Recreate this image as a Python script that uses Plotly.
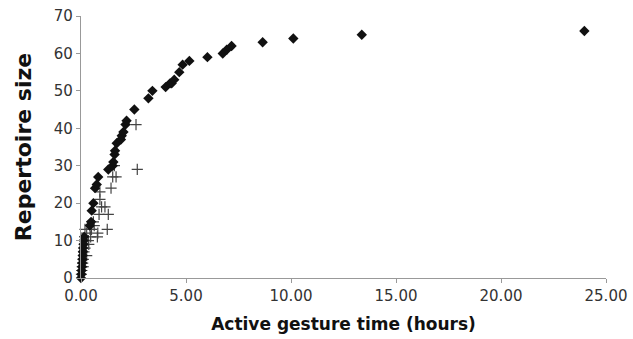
import plotly.graph_objects as go

# Series 1: diamonds
x_diamond = [0.00, 0.02, 0.03, 0.05, 0.06, 0.07, 0.08, 0.09, 0.10, 0.12, 0.13, 0.15,
             0.42, 0.48, 0.51, 0.59, 0.67, 0.75, 0.82, 1.30, 1.51, 1.54, 1.60, 1.62,
             1.70, 1.90, 1.94, 2.02, 2.12, 2.17, 2.54, 3.21, 3.40, 4.03, 4.24, 4.32,
             4.44, 4.68, 4.84, 5.16, 6.02, 6.75, 6.94, 7.17, 8.65, 10.11, 13.37, 23.97]
y_diamond = [0, 1, 2, 3, 4, 5, 6, 7, 8, 9, 10, 11,
             14, 15, 18, 20, 24, 25, 27, 29, 30, 31, 33, 34,
             36, 37, 38, 39, 41, 42, 45, 48, 50, 51, 52, 52,
             53, 55, 57, 58, 59, 60, 61, 62, 63, 64, 65, 66]

# Series 2: crosses
x_cross = [0.02, 0.04, 0.06, 0.08, 0.11, 0.11, 0.14, 0.19, 0.19, 0.27, 0.27, 0.35,
           0.37, 0.43, 0.46, 0.50, 0.59, 0.63, 0.78, 0.80, 0.86, 0.90, 0.90, 0.98,
           1.14, 1.25, 1.30, 1.43, 1.51, 1.59, 1.67, 2.62, 2.68]
y_cross = [1, 2, 3, 4, 3, 5, 7, 8, 13, 6, 12, 10,
           9, 13, 11, 13, 15, 14, 11, 12, 17, 23, 21, 19,
           19, 13, 17, 24, 27, 30, 27, 41, 29]

x_ticks = [0, 5, 10, 15, 20, 25]
x_tick_labels = ["0.00", "5.00", "10.00", "15.00", "20.00", "25.00"]
y_ticks = [0, 10, 20, 30, 40, 50, 60, 70]

fig = go.Figure()
fig.add_trace(go.Scatter(
    x=x_cross, y=y_cross, mode="markers", cliponaxis=False,
    marker=dict(symbol="cross-thin-open", size=8, color="#444444",
                line=dict(width=1.2, color="#444444")),
    showlegend=False))
fig.add_trace(go.Scatter(
    x=x_diamond, y=y_diamond, mode="markers", cliponaxis=False,
    marker=dict(symbol="diamond", size=8, color="#111111"),
    showlegend=False))

tickfont = dict(family="DejaVu Sans", size=15, color="#333333")
fig.update_layout(
    width=633, height=339,
    margin=dict(l=81, r=27, t=16, b=61),
    paper_bgcolor="white", plot_bgcolor="white",
    xaxis=dict(range=[0, 25], tickvals=x_ticks, ticktext=x_tick_labels,
               automargin=False,
               showgrid=False, zeroline=False, showline=True, linecolor="#999999",
               linewidth=1.3, ticks="outside", ticklen=4, tickcolor="#999999",
               tickfont=tickfont,
               title=dict(text="<b>Active gesture time (hours)</b>",
                          font=dict(family="DejaVu Sans", size=17, color="#111111"),
                          standoff=13)),
    yaxis=dict(range=[0, 70], tickvals=y_ticks,
               automargin=False,
               showgrid=False, zeroline=False, showline=True, linecolor="#999999",
               linewidth=1.3, ticks="outside", ticklen=4, tickcolor="#999999",
               tickfont=tickfont,
               title=dict(text="<b>Repertoire size</b>",
                          font=dict(family="DejaVu Sans", size=22, color="#111111"),
                          standoff=16)),
)

fig.write_html("out.html")
